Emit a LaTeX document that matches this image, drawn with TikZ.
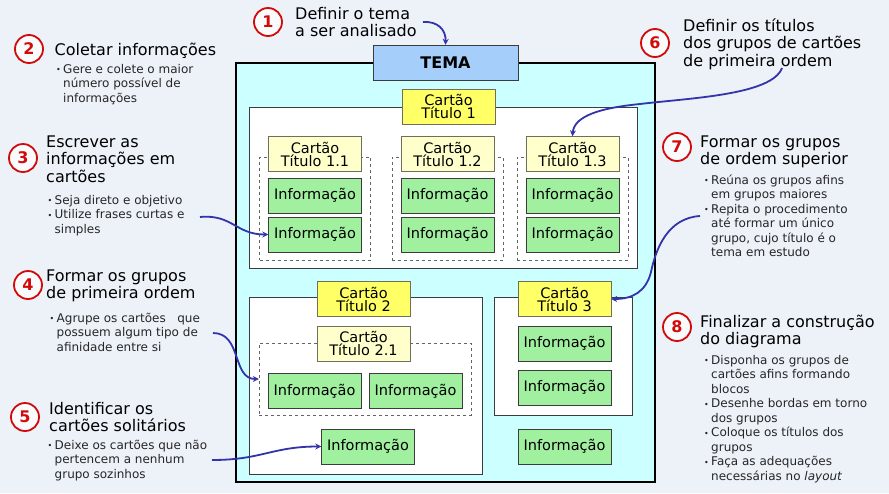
\documentclass[tikz,border=0pt]{standalone}
\usepackage{fontspec}
\setmainfont{DejaVu Sans}
\usetikzlibrary{arrows.meta}

\definecolor{bgcol}{RGB}{237,241,248}
\definecolor{cyanfill}{RGB}{204,255,255}
\definecolor{temablue}{RGB}{166,206,250}
\definecolor{titleyellow}{RGB}{255,255,102}
\definecolor{paleyellow}{RGB}{255,255,204}
\definecolor{infogreen}{RGB}{160,240,160}
\definecolor{boxline}{RGB}{60,60,60}
\definecolor{titleline}{RGB}{110,110,90}
\definecolor{stepred}{RGB}{210,10,10}
\definecolor{arrowblue}{RGB}{51,51,170}

\newcommand{\blt}{\makebox[7pt][l]{\raisebox{0.5pt}{\fontsize{8}{8}\selectfont\textbullet}}}
\newcommand{\ind}{\hspace*{7pt}}

\begin{document}
\begin{tikzpicture}[x=1pt, y=-1pt,
  box/.style={draw=boxline, minimum width=93pt, minimum height=35pt, inner sep=0pt,
    align=center, font=\fontsize{14.5}{13}\selectfont},
  info/.style={box, fill=infogreen},
  titulo/.style={box, draw=titleline, fill=titleyellow},
  subtitulo/.style={box, draw=titleline, fill=paleyellow},
  grupo/.style={draw=boxline, fill=white, inner sep=0pt},
  subgrupo/.style={draw=boxline!80, dashed, inner sep=0pt},
  passo/.style={circle, draw=stepred, line width=1.8pt, fill=white!70!bgcol,
    minimum size=28pt, inner sep=0pt, text=stepred, font=\bfseries\fontsize{16}{16}\selectfont},
  titulopasso/.style={anchor=base west, inner sep=0pt, align=left,
    font=\fontsize{16}{17.5}\selectfont},
  texto/.style={anchor=base west, inner sep=0pt, align=left, text=black!85,
    font=\fontsize{12}{14.5}\selectfont},
  seta/.style={draw=arrowblue, line width=1.8pt, -{Stealth[length=6pt,width=6pt]}}
]
  % Background
  \fill[bgcol] (0,0) rectangle (889,493);
  \useasboundingbox (0,0) rectangle (889,493);

  % Tema frame
  \node[draw=black, line width=1.6pt, fill=cyanfill, minimum width=419pt,
    minimum height=419pt, inner sep=0pt] (quadro) at (445.5,272.5) {};
  \node[box, fill=temablue, minimum width=145pt, font=\bfseries\fontsize{16}{16}\selectfont]
    (tema) at (445.5,62.5) {TEMA};

  % Group 1
  \node[grupo, minimum width=388pt, minimum height=161pt] (g1) at (443,187.5) {};
  \foreach \i/\x in {1/315, 2/447.5, 3/572.5}{
    \node[subgrupo, minimum width=111pt, minimum height=103pt] (g1\i) at (\x,208.5) {};
    \node[subtitulo] (t1\i) at (\x,154) {Cartão\\Título 1.\i};
    \node[info] (a1\i) at (\x,195.5) {Informação};
    \node[info] (b1\i) at (\x,234.5) {Informação};
  }
  \node[titulo] (t1) at (448.5,106.5) {Cartão\\Título 1};

  % Group 2
  \node[grupo, minimum width=233pt, minimum height=177pt] (g2) at (365.5,385.5) {};
  \node[subgrupo, minimum width=212pt, minimum height=72pt] (g21) at (365,379) {};
  \node[titulo] (t2) at (363.5,299) {Cartão\\Título 2};
  \node[subtitulo] (t21) at (363.5,343.5) {Cartão\\Título 2.1};
  \node[info] (a21) at (314.5,391) {Informação};
  \node[info] (b21) at (415.5,391) {Informação};
  \node[info] (s2) at (368,446.5) {Informação};

  % Group 3
  \node[grupo, minimum width=138pt, minimum height=118pt] (g3) at (563,356) {};
  \node[titulo] (t3) at (564.5,299) {Cartão\\Título 3};
  \node[info] (a3) at (564.5,343.5) {Informação};
  \node[info] (b3) at (564.5,387.5) {Informação};
  \node[info] (s3) at (564.5,446.5) {Informação};

  % Steps, left side (base = last line)
  \node[passo] (p1) at (268,22) {1};
  \node[titulopasso] (h1) at (295,36.5) {Definir o tema\\a ser analisado};

  \node[passo] (p2) at (29,49) {2};
  \node[titulopasso] (h2) at (54.5,55) {Coletar informações};
  \node[texto] (x2) at (56,102) {\blt Gere e colete o maior\\\ind número possível de\\\ind informações};

  \node[passo] (p3) at (23,158) {3};
  \node[titulopasso] (h3) at (46,182) {Escrever as\\informações em\\cartões};
  \node[texto] (x3) at (47.5,233) {\blt Seja direto e objetivo\\\blt Utilize frases curtas e\\\ind simples};

  \node[passo] (p4) at (28,285) {4};
  \node[titulopasso] (h4) at (46,298.5) {Formar os grupos\\de primeira ordem};
  \node[texto] (x4) at (49.5,351) {\blt Agrupe os cartões\ \ \ que\\\ind possuem algum tipo de\\\ind afinidade entre si};

  \node[passo] (p5) at (25,417) {5};
  \node[titulopasso] (h5) at (49,431.5) {Identificar os\\cartões solitários};
  \node[texto] (x5) at (47.5,478) {\blt Deixe os cartões que não\\\ind pertencem a nenhum\\\ind grupo sozinhos};

  % Steps, right side
  \node[passo] (p6) at (655,43) {6};
  \node[titulopasso] (h6) at (683,66) {Definir os títulos\\dos grupos de cartões\\de primeira ordem};

  \node[passo] (p7) at (677,147) {7};
  \node[titulopasso] (h7) at (700,164.5) {Formar os grupos\\de ordem superior};
  \node[texto] (x7) at (704,256.5) {\blt Reúna os grupos afins\\\ind em grupos maiores\\\blt Repita o procedimento\\\ind até formar um único\\\ind grupo, cujo título é o\\\ind tema em estudo};

  \node[passo] (p8) at (677,327) {8};
  \node[titulopasso] (h8) at (700,344.5) {Finalizar a construção\\do diagrama};
  \node[texto] (x8) at (704,480) {\blt Disponha os grupos de\\\ind cartões afins formando\\\ind blocos\\\blt Desenhe bordas em torno\\\ind dos grupos\\\blt Coloque os títulos dos\\\ind grupos\\\blt Faça as adequações\\\ind necessárias no \textit{layout}};

  % Arrows
  \coordinate (c1) at (423,22);
  \coordinate (c3) at (200,217);
  \coordinate (c4) at (213,333);
  \coordinate (c5) at (212,460);
  \coordinate (c6) at (782,68);
  \coordinate (c7) at (700,216);
  \draw[seta] (c1) .. controls (438,21) and (446,30) .. (tema.north);
  \draw[seta] (c3) .. controls (232,214) and (236,234.5) .. (b11.west);
  \draw[seta] (c4) .. controls (242,333) and (232,379) .. (g21.west);
  \draw[seta] (c5) .. controls (262,460) and (272,446.5) .. (s2.west);
  \draw[seta] (c6) .. controls (772,95) and (690,98) .. (640,104)
    .. controls (600,108) and (574,116) .. (t13.north);
  \draw[seta] (c7) .. controls (668,218) and (656,248) .. (651,272)
    .. controls (646,292) and (632,299) .. (t3.east);
\end{tikzpicture}
\end{document}
